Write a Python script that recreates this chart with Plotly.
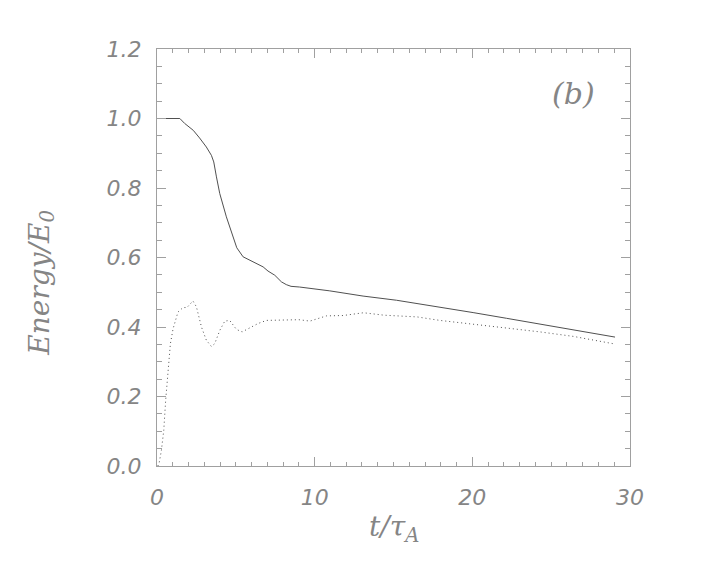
import plotly.graph_objects as go

# Solid curve (total energy)
t_solid = [0, 1.45, 1.75, 2.07, 2.3, 2.7, 3.13, 3.45, 3.6, 3.77, 3.98, 4.4, 4.82, 5.06,
           5.46, 5.67, 6.09, 6.31, 6.73, 7.04, 7.47, 7.89, 8.2, 8.5, 9.05, 10.96, 13.07,
           15.19, 17.3, 17.94, 20.05, 22.17, 24.28, 26.4, 29.05]
e_solid = [1.0, 1.0, 0.986, 0.974, 0.966, 0.944, 0.918, 0.894, 0.875, 0.832, 0.784, 0.717,
           0.659, 0.628, 0.602, 0.597, 0.587, 0.584, 0.573, 0.561, 0.549, 0.53, 0.522,
           0.517, 0.515, 0.504, 0.489, 0.477, 0.462, 0.458, 0.4415, 0.425, 0.408, 0.391,
           0.371]

# Dotted curve
t_dot = [0.05, 0.13, 0.28, 0.43, 0.55, 0.7, 0.85, 1.02, 1.33, 1.65, 1.9, 2.28, 2.5, 2.82,
         3.13, 3.45, 3.66, 3.98, 4.3, 4.61, 5.04, 5.4, 5.88, 6.41, 6.94, 8.0, 9.0, 9.7,
         10.3, 10.75, 11.8, 13.1, 14.4, 15.6, 16.5, 17.94, 20.05, 22.17, 24.28, 26.4, 28.93]
e_dot = [0.0, 0.007, 0.045, 0.103, 0.189, 0.285, 0.352, 0.395, 0.443, 0.456, 0.456, 0.475,
         0.458, 0.40, 0.362, 0.344, 0.352, 0.39, 0.417, 0.419, 0.393, 0.386, 0.398, 0.41,
         0.419, 0.419, 0.421, 0.417, 0.426, 0.432, 0.433, 0.441, 0.434, 0.431, 0.429,
         0.419, 0.407, 0.397, 0.386, 0.373, 0.352]

x_ticks = [0, 10, 20, 30]
y_ticks = [0.0, 0.2, 0.4, 0.6, 0.8, 1.0, 1.2]
y_tick_labels = ["0.0", "0.2", "0.4", "0.6", "0.8", "1.0", "1.2"]

line_col = "#505050"
axis_col = "#a0a0a0"
text_col = "#858585"

fig = go.Figure()
fig.add_trace(go.Scatter(x=t_solid, y=e_solid, mode="lines",
                         line=dict(color=line_col, width=1), showlegend=False))
fig.add_trace(go.Scatter(x=t_dot, y=e_dot, mode="lines",
                         line=dict(color=line_col, width=1, dash="1px,3px"), showlegend=False))

tickfont = dict(family="DejaVu Sans", size=22, color=text_col, style="italic")

fig.update_xaxes(range=[0, 30], tickvals=x_ticks, ticktext=[str(v) for v in x_ticks],
                 showline=True, linecolor=axis_col, linewidth=1, mirror="allticks",
                 ticks="inside", ticklen=9, tickcolor=axis_col, tickwidth=1,
                 minor=dict(dtick=1, ticks="inside", ticklen=4, tickcolor=axis_col),
                 showgrid=False, zeroline=False, tickfont=tickfont, ticklabelstandoff=12)
fig.update_yaxes(range=[0, 1.2], tickvals=y_ticks, ticktext=y_tick_labels,
                 showline=True, linecolor=axis_col, linewidth=1, mirror="allticks",
                 ticks="inside", ticklen=9, tickcolor=axis_col, tickwidth=1,
                 minor=dict(dtick=0.05, ticks="inside", ticklen=5, tickcolor=axis_col),
                 showgrid=False, zeroline=False, tickfont=tickfont, ticklabelstandoff=10)

titlefont = dict(family="DejaVu Serif", size=28, color=text_col, style="italic")
fig.add_annotation(text="Energy/E<sub>0</sub>", xref="paper", yref="paper",
                   x=-0.245, y=0.44, textangle=-90, showarrow=False, font=titlefont,
                   xanchor="center", yanchor="middle")
fig.add_annotation(text="t/τ<sub>A</sub>", xref="paper", yref="paper",
                   x=0.5, y=-0.15, showarrow=False, font=titlefont,
                   xanchor="center", yanchor="middle")
fig.add_annotation(text="(b)", x=26.4, y=1.073, xref="x", yref="y", showarrow=False,
                   font=dict(family="DejaVu Serif", size=30, color=text_col, style="italic"))

# page body has an 8px margin: size the figure so the plot area lands where the reference has it
fig.update_layout(width=700, height=558, plot_bgcolor="white", paper_bgcolor="white",
                  margin=dict(l=149, r=78, t=41, b=100))

fig.write_html("out.html")
